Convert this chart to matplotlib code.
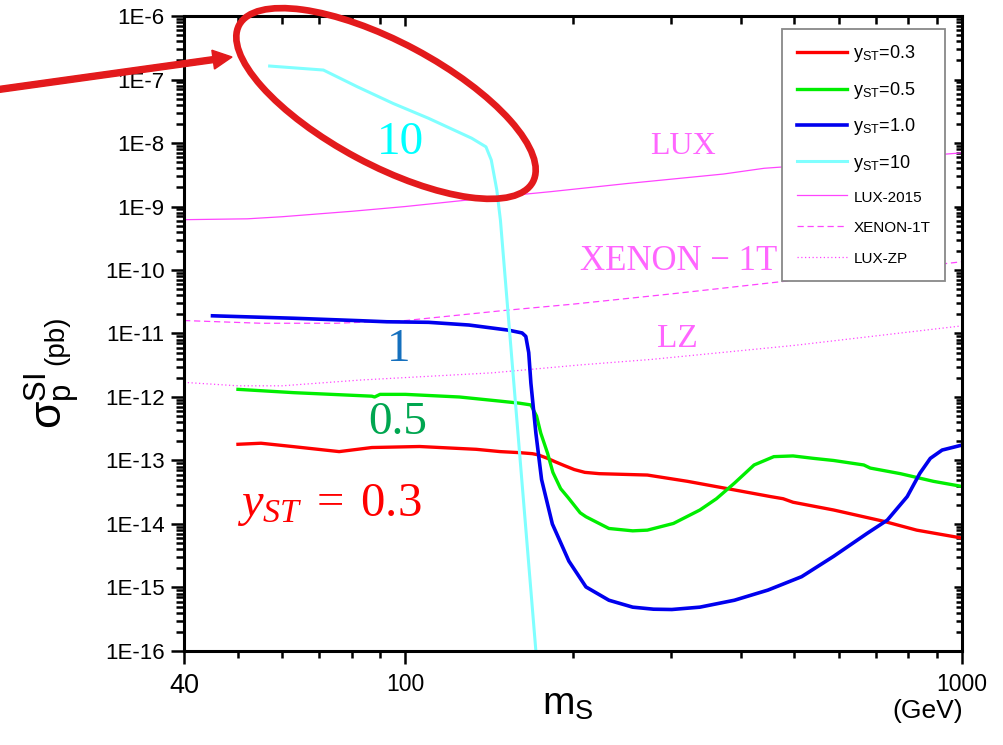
import numpy as np
import matplotlib.pyplot as plt
from matplotlib.ticker import FixedLocator, FuncFormatter, NullFormatter
from matplotlib.patches import Ellipse, FancyArrow

plt.rcParams['font.family'] = ['Liberation Sans', 'DejaVu Sans']
plt.rcParams['mathtext.fontset'] = 'custom'
plt.rcParams['mathtext.rm'] = 'Liberation Serif'
plt.rcParams['mathtext.it'] = 'Liberation Serif:italic'
plt.rcParams['mathtext.sf'] = 'Liberation Sans'

# --- data (m_S in GeV, sigma in pb) ---
m_03 = [50, 55, 62.6, 76, 87, 106, 134, 148, 160, 169, 173, 180, 186, 193, 201, 210,
        223, 272, 321, 379, 453, 477, 497, 588, 724, 829, 1000]
s_03 = [1.8e-13, 1.87e-13, 1.66e-13, 1.38e-13, 1.6e-13, 1.66e-13, 1.5e-13, 1.38e-13,
        1.33e-13, 1.28e-13, 1.23e-13, 1.08e-13, 9.5e-14, 8.3e-14, 7.2e-14, 6.5e-14,
        6.2e-14, 5.9e-14, 4.7e-14, 3.6e-14, 2.7e-14, 2.5e-14, 2.2e-14, 1.66e-14,
        1.1e-14, 8e-15, 6e-15]

m_05 = [50, 63, 87, 88, 90, 100, 125, 148, 160, 168, 172, 175, 180, 184, 190, 196,
        206, 211, 232, 256, 272, 303, 338, 362, 390, 423, 459, 497, 541, 588, 666,
        684, 775, 888, 1000]
s_05 = [1.32e-12, 1.17e-12, 1.03e-12, 1.0e-12, 1.1e-12, 1.1e-12, 1.0e-12, 8.6e-13,
        8e-13, 7.5e-13, 5e-13, 2.7e-13, 1.3e-13, 6.5e-14, 3.6e-14, 2.6e-14, 1.5e-14,
        1.3e-14, 8.5e-15, 7.8e-15, 8e-15, 1.02e-14, 1.66e-14, 2.5e-14, 4.4e-14,
        8.5e-14, 1.15e-13, 1.18e-13, 1.08e-13, 1.0e-13, 8.5e-14, 7.6e-14, 6.2e-14,
        4.7e-14, 3.9e-14]

m_10 = [45, 62.8, 83, 92.6, 110, 130, 153, 162, 164.5, 166.5, 168, 171.5, 175.6,
        183.6, 196.6, 211, 232, 256, 279, 301, 338, 390, 448, 515, 588, 675, 734, 797,
        840, 877, 921, 1000]
s_10 = [1.9e-11, 1.74e-11, 1.59e-11, 1.53e-11, 1.5e-11, 1.36e-11, 1.13e-11, 1.02e-11,
        9e-12, 5e-12, 1.65e-12, 2.7e-13, 5e-14, 1e-14, 2.6e-15, 1.02e-15, 6.3e-16,
        4.9e-16, 4.55e-16, 4.5e-16, 4.9e-16, 6.3e-16, 9.1e-16, 1.48e-15, 3.1e-15,
        7.1e-15, 1.15e-14, 2.7e-14, 6.3e-14, 1.08e-13, 1.46e-13, 1.75e-13]

m_100 = [57, 71.2, 81.9, 95, 110, 131.5, 139.5, 142.6, 145.9, 148.1, 171.5]
s_100 = [1.63e-7, 1.41e-7, 7.7e-8, 4.2e-8, 2.45e-8, 1.19e-8, 8.7e-9, 5.4e-9, 1.82e-9,
         6.1e-10, 1e-16]

m_lux = [40, 52, 60, 80, 100, 150, 182, 250, 373, 441, 477, 700, 1000]
s_lux = [6.2e-10, 6.4e-10, 6.9e-10, 8.4e-10, 1.0e-9, 1.45e-9, 1.71e-9, 2.3e-9,
         3.25e-9, 4.0e-9, 4.2e-9, 5.5e-9, 7e-9]

m_xe = [40, 55, 75, 100, 150, 200, 300, 477, 955, 1000]
s_xe = [1.6e-11, 1.45e-11, 1.45e-11, 1.6e-11, 2.3e-11, 2.9e-11, 4.2e-11, 6.6e-11,
        1.29e-10, 1.35e-10]

m_zp = [40, 50, 60, 83, 143, 206, 276, 500, 1000]
s_zp = [1.7e-12, 1.5e-12, 1.5e-12, 1.85e-12, 2.4e-12, 3.2e-12, 3.9e-12, 6.5e-12, 1.32e-11]

x_major = [40, 100, 1000]
x_minor = [50, 60, 70, 80, 90, 200, 300, 400, 500, 600, 700, 800, 900]
y_exp = list(range(-16, -5))

fig = plt.figure(figsize=(10.04, 7.45), dpi=100)
ax = fig.add_axes([0.1833, 0.1262, 0.7749, 0.8523])
ax.set_xscale('log')
ax.set_yscale('log')

l_lux, = ax.plot(m_lux, s_lux, color='#ff44ff', lw=0.9, label='LUX-2015')
l_xe, = ax.plot(m_xe, s_xe, color='#ff44ff', lw=0.9, ls=(0, (5, 3)), label='XENON-1T')
l_zp, = ax.plot(m_zp, s_zp, color='#ff44ff', lw=0.9, ls=(0, (1, 2)), label='LUX-ZP')
l03, = ax.plot(m_03, s_03, color='#ff0000', lw=2.4, label=r'y$_{\mathsf{ST}}$=0.3')
l05, = ax.plot(m_05, s_05, color='#00ee00', lw=2.4, label=r'y$_{\mathsf{ST}}$=0.5')
l10, = ax.plot(m_10, s_10, color='#0000ee', lw=2.6, label=r'y$_{\mathsf{ST}}$=1.0')
l100, = ax.plot(m_100, s_100, color='#80ffff', lw=2.2, label=r'y$_{\mathsf{ST}}$=10')

ax.set_xlim(40, 1000)
ax.set_ylim(1e-16, 1e-6)

# ticks: outward on bottom/left, inward on top/right
ax.xaxis.set_major_locator(FixedLocator(x_major))
ax.xaxis.set_minor_locator(FixedLocator(x_minor))
ax.xaxis.set_major_formatter(FuncFormatter(lambda v, p: '%d' % v))
ax.xaxis.set_minor_formatter(NullFormatter())
ax.yaxis.set_major_locator(FixedLocator([10.0 ** e for e in y_exp]))
ax.yaxis.set_minor_locator(FixedLocator([m * 10.0 ** e for e in y_exp[:-1] for m in range(2, 10)]))
ax.yaxis.set_major_formatter(FuncFormatter(lambda v, p: '1E%d' % round(np.log10(v))))
ax.yaxis.set_minor_formatter(NullFormatter())
ax.tick_params(which='both', direction='out', width=1.8)
ax.tick_params(axis='y', which='major', length=9.5, pad=4.5, labelsize=16)
ax.tick_params(axis='y', which='minor', length=5.5)
ax.tick_params(axis='x', which='major', length=9, pad=7, labelsize=16.5)
ax.tick_params(axis='x', which='minor', length=5)
for sp in ax.spines.values():
    sp.set_linewidth(2.2)
ax.get_xticklabels()[0].set_fontsize(19.5)

top = ax.secondary_xaxis('top', functions=(lambda v: v, lambda v: v))
top.xaxis.set_major_locator(FixedLocator(x_major))
top.xaxis.set_minor_locator(FixedLocator(x_minor))
top.tick_params(which='both', direction='in', labeltop=False, width=1.8)
top.tick_params(which='major', length=7)
top.tick_params(which='minor', length=5.5)
right = ax.secondary_yaxis('right', functions=(lambda v: v, lambda v: v))
right.yaxis.set_major_locator(FixedLocator([10.0 ** e for e in y_exp]))
right.yaxis.set_minor_locator(FixedLocator([m * 10.0 ** e for e in y_exp[:-1] for m in range(2, 10)]))
right.tick_params(which='both', direction='in', labelright=False, width=1.8)
right.tick_params(which='major', length=6)
right.tick_params(which='minor', length=4)

# labels
fig.text(0.0518, 0.4617, 'σ' + r'$_{\mathsf{p}}^{\mathsf{SI}}$', rotation=90,
         ha='center', va='center', fontsize=32)
fig.text(0.0558, 0.5436, '(pb)', rotation=90, ha='center', va='center', fontsize=20)
fig.text(0.566, 0.054, r'm$_{\mathsf{S}}$', ha='center', va='center', fontsize=28)
fig.text(0.959, 0.046, '(GeV)', ha='right', va='center', fontsize=19)

# curve annotations
serif = 'Liberation Serif'
ax.text(0.2776, 0.800, '10', transform=ax.transAxes, ha='center', va='center',
        fontsize=34, color='#00ffff', family=serif)
ax.text(0.2763, 0.474, '1', transform=ax.transAxes, ha='center', va='center',
        fontsize=34, color='#1570be', family=serif)
ax.text(0.275, 0.359, '0.5', transform=ax.transAxes, ha='center', va='center',
        fontsize=34, color='#00a650', family=serif)
ax.text(0.068, 0.230, r'$y_{ST}\;=\;0.3$', transform=ax.transAxes, ha='left', va='center',
        fontsize=35, color='#ff0000')
ax.text(0.641, 0.795, 'LUX', transform=ax.transAxes, ha='center', va='center',
        fontsize=23, color='#ff66ff', family=serif)
ax.text(0.509, 0.613, 'XENON − 1T', transform=ax.transAxes, ha='left', va='center',
        fontsize=25, color='#ff66ff', family=serif)
ax.text(0.634, 0.491, 'LZ', transform=ax.transAxes, ha='center', va='center',
        fontsize=24, color='#ff66ff', family=serif)

leg = ax.legend(handles=[l03, l05, l10, l100, l_lux, l_xe, l_zp], loc='upper right',
                bbox_to_anchor=(0.978, 0.9795), borderaxespad=0, fontsize=13,
                fancybox=False, framealpha=1, edgecolor='#888888',
                handlelength=2.8, handletextpad=0.35, labelspacing=0.85, borderpad=0.8)
leg.get_frame().set_linewidth(1.3)
for t in leg.get_texts()[4:]:
    t.set_fontsize(11)

# red highlight ellipse and arrow
fig.add_artist(Ellipse((3.86, 6.415), 3.33, 1.23, angle=-28.1, fill=False,
                       edgecolor='#e31a1c', lw=4.8, transform=fig.dpi_scale_trans))
fig.add_artist(FancyArrow(-0.05, 6.55, 2.37, 0.33, width=0.06, head_width=0.19,
                          head_length=0.19, length_includes_head=True,
                          color='#e31a1c', transform=fig.dpi_scale_trans))

fig.savefig('out.png', dpi=100)
